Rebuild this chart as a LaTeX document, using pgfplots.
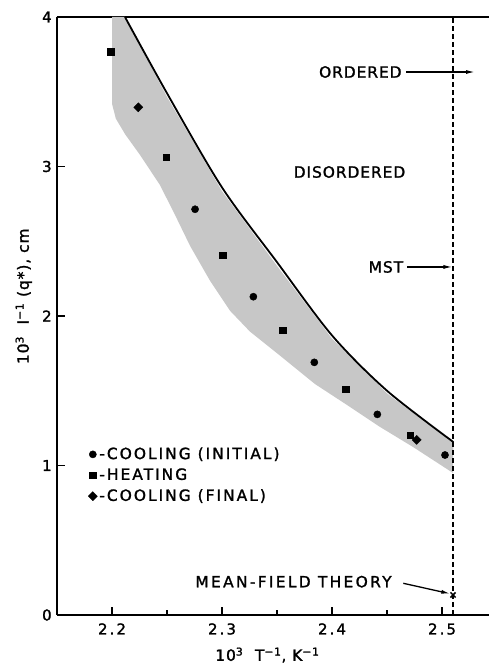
\documentclass[border=0pt]{standalone}
\usepackage{fontspec}
\setmainfont{DejaVu Sans}[LetterSpace=6, FakeBold=1.5]
\usepackage{pgfplots}
\pgfplotsset{compat=1.18}
\usetikzlibrary{arrows.meta}

\begin{document}
\fontsize{15.5}{18}\selectfont
\begin{tikzpicture}
\begin{axis}[
  scale only axis, width=432bp, height=598bp,
  xmin=2.15, xmax=2.5427, ymin=0, ymax=4,
  axis x line*=box, axis y line*=left,
  axis line style={-, line width=1.7bp},
  xtick pos=left,
  tick align=inside,
  xtick={2.2,2.3,2.4,2.5}, minor xtick={2.25,2.35,2.45},
  ytick={0,1,2,3,4},
  xticklabels={2.2,2.3,2.4,2.5}, yticklabels={0,1,2,3,4},
  major tick length=8bp, minor tick length=5bp,
  tick style={line width=1.3bp, black},
  /pgf/number format/assume math mode=true,
  tick label style={font=\fontsize{15}{15}\selectfont\addfontfeature{LetterSpace=14}},
  xticklabel style={yshift=-3bp},
  xlabel={10\textsuperscript{3}\ \ T\textsuperscript{−1}, K\textsuperscript{−1}},
  xlabel style={at={(rel axis cs:0.487,-0.067)}, anchor=center},
  ylabel={10\textsuperscript{3}\ \ I\textsuperscript{−1} (q*), cm},
  ylabel style={at={(rel axis cs:-0.077,0.533)}, anchor=center},
  legend style={at={(rel axis cs:0.072,0.284)}, anchor=north west, draw=none, fill=none,
    inner sep=0pt, row sep=3bp, font=\fontsize{15.5}{18}\selectfont\addfontfeature{LetterSpace=13}},
  legend cell align=left,
  legend image code/.code={\draw[#1] plot coordinates {(0bp,0bp)};},
  /tikz/every even column/.style={column sep=1bp},
  clip=false,
]
% shaded band
\addplot[draw=none, fill=black!22, forget plot] coordinates {
  (2.2118,4.0) (2.25,3.465) (2.30,2.835) (2.35,2.335) (2.40,1.848) (2.45,1.482) (2.5103,1.15)
  (2.51,0.950) (2.4736,1.124) (2.4436,1.258) (2.4136,1.405) (2.3845,1.545)
  (2.3527,1.735) (2.3255,1.895) (2.3073,2.035) (2.2891,2.236) (2.2709,2.470)
  (2.2573,2.676) (2.2436,2.876) (2.2255,3.077) (2.2120,3.215) (2.2035,3.32) (2.2,3.42) (2.2,4.0)
} -- cycle;
% solid curve
\addplot[black, line width=1.8bp, smooth, forget plot] coordinates {
  (2.2118,4.0) (2.25,3.49) (2.30,2.86) (2.35,2.36) (2.40,1.87) (2.45,1.50) (2.5103,1.157)
};
% MST dashed line
\addplot[black, line width=1.4bp, dash pattern=on 5bp off 3bp, forget plot] coordinates {(2.51,0) (2.51,4)};
% data
\addplot[only marks, mark=*, mark size=3.6bp, black] coordinates {
  (2.2755,2.714) (2.3285,2.129) (2.3839,1.690) (2.4412,1.342) (2.5027,1.070)
};
\addlegendentry{-COOLING (INITIAL)}
\addplot[only marks, mark=square*, mark size=3.3bp, black] coordinates {
  (2.199,3.766) (2.2491,3.061) (2.3006,2.408) (2.3552,1.904) (2.4124,1.510) (2.4712,1.202)
};
\addlegendentry{-HEATING}
\addplot[only marks, mark=square*, mark options={rotate=45}, mark size=3.2bp, black] coordinates {
  (2.2239,3.396) (2.477,1.171)
};
\addlegendentry{-COOLING (FINAL)}
\addplot[only marks, mark=x, mark size=3.6bp, line width=1.5bp, black, forget plot] coordinates {(2.51,0.134)};
% annotations
\node[anchor=east, inner sep=0pt] at (axis cs:2.4634,3.632) {ORDERED};
\draw[line width=1.3bp, -{Latex[length=9bp,width=4bp]}] (axis cs:2.4673,3.632) -- (axis cs:2.53,3.632);
\node[inner sep=0pt] at (axis cs:2.4159,2.963) {DISORDERED};
\node[anchor=east, inner sep=0pt] at (axis cs:2.4648,2.328) {MST};
\draw[line width=1.3bp, -{Latex[length=9bp,width=4bp]}] (axis cs:2.4682,2.328) -- (axis cs:2.5095,2.328);
\node[inner sep=0pt, font=\addfontfeature{LetterSpace=15}] at (axis cs:2.365,0.223) {MEAN-FIELD THEORY};
\draw[line width=1.3bp, -{Latex[length=9bp,width=4bp]}] (axis cs:2.4648,0.212) -- (axis cs:2.5075,0.142);
\end{axis}
\pgfresetboundingbox
\path (-57bp,-57bp) rectangle (432bp,615bp);
\end{tikzpicture}
\end{document}
